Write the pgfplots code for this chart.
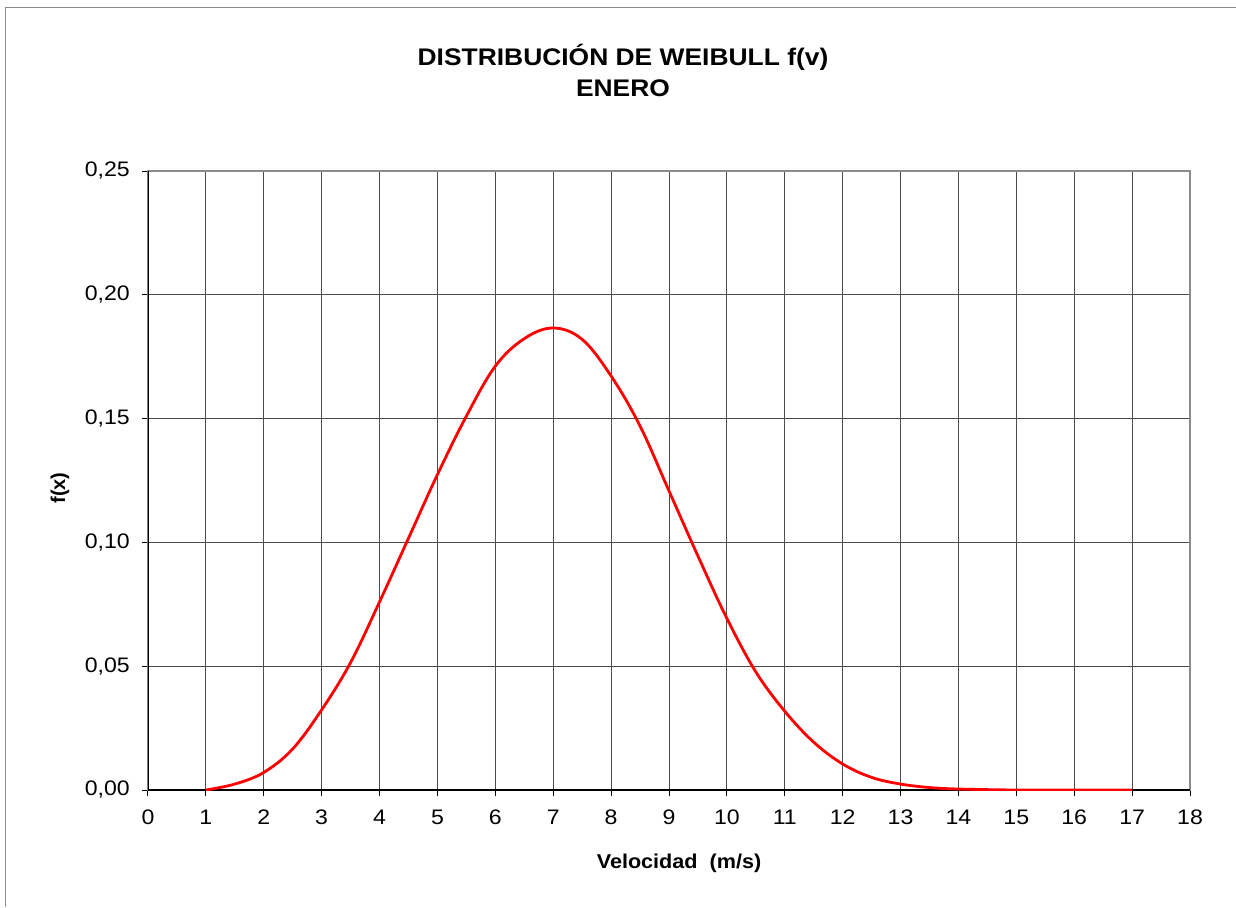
\documentclass[border=0pt]{standalone}
\usepackage{pgfplots}
\pgfplotsset{compat=1.18}
\usepackage{fontspec}
\setmainfont{Liberation Sans}

\begin{document}
\begin{tikzpicture}
% page = 1236 x 907 px, 1px = 0.5pt, axis box origin at (148,790) px
\useasboundingbox (-74pt,-58.5pt) rectangle (544pt,395pt);
\draw[black!45, line width=0.5pt] (-71pt,-58.5pt) -- (-71pt,391pt) -- (544pt,391pt);

\begin{axis}[
    scale only axis,
    width=521pt, height=309.5pt,
    at={(0,0)}, anchor=south west,
    xmin=0, xmax=18, ymin=0, ymax=0.25,
    xtick={0,1,...,18},
    ytick={0,0.05,0.10,0.15,0.20,0.25},
    yticklabels={{0,00},{0,05},{0,10},{0,15},{0,20},{0,25}},
    grid=major,
    major grid style={black!70, line width=0.5pt},
    axis line style={black!45, line width=0.8pt},
    tick align=outside, tickpos=left,
    major tick length=3pt,
    tick style={black, line width=0.5pt},
    ticklabel style={font=\fontsize{10.5}{12}\selectfont, xscale=1.1},
    yticklabel style={xshift=-2pt},
    xticklabel style={yshift=-3.5pt},
    /pgf/number format/assume math mode=true,
]
\draw[black, line width=0.8pt] (rel axis cs:0,1) -- (rel axis cs:0,0) -- (rel axis cs:1,0);
\addplot[red, line width=1.4pt, smooth, tension=0.6] coordinates {
    (1,0.0000) (1.5,0.0024) (2,0.0071) (2.5,0.0166) (3,0.0324)
    (3.5,0.0515) (4,0.0760) (4.5,0.1017) (5,0.1274) (5.5,0.1510)
    (6,0.1712) (6.5,0.1823) (7,0.1866) (7.5,0.1820) (8,0.1672)
    (8.5,0.1470) (9,0.1208) (9.5,0.0945) (10,0.0693) (10.5,0.0477)
    (11,0.0318) (11.5,0.0193) (12,0.0105) (12.5,0.0051) (13,0.0024)
    (13.5,0.0010) (14,0.0004) (15,0.0000) (16,0.0000) (17,0.0000)
};
\end{axis}

\node[font=\bfseries\fontsize{12}{15.5}\selectfont, align=center, xscale=1.1] at (237.5pt,360pt)
    {DISTRIBUCIÓN DE WEIBULL f(v)\\ENERO};
\node[font=\bfseries\fontsize{10}{12}\selectfont, xscale=1.08] at (265.5pt,-36.5pt) {Velocidad\ \ (m/s)};
\node[font=\bfseries\fontsize{10}{12}\selectfont, rotate=90] at (-44pt,151pt) {f(x)};
\end{tikzpicture}
\end{document}
